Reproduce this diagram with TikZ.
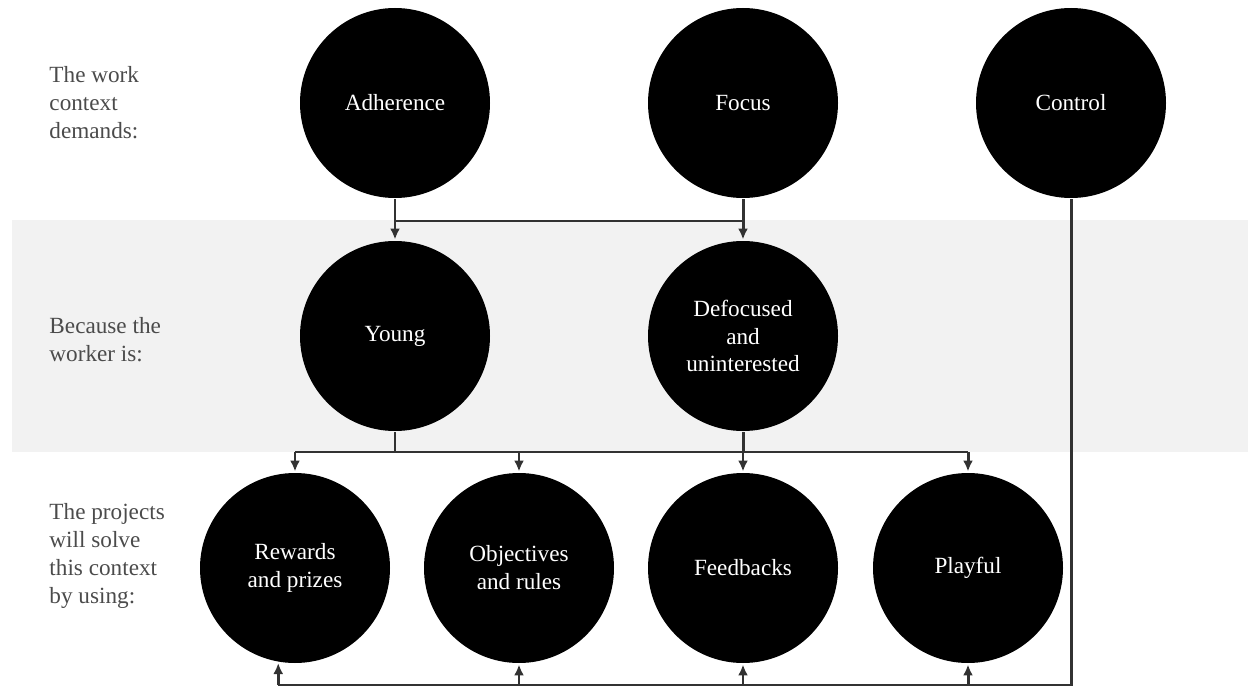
\documentclass[tikz,border=0pt]{standalone}
\usepackage{fontspec}
\setmainfont{Liberation Serif}
\newfontfamily\tms{Liberation Serif}
\usepackage{tikz}
\usetikzlibrary{positioning}
\usetikzlibrary{calc}
\usetikzlibrary{arrows.meta}
\definecolor{bandgray}{RGB}{242,242,242}
\definecolor{wiregray}{RGB}{50,50,50}
\definecolor{txtgray}{RGB}{75,75,75}
\tikzset{every picture/.style={line width=1.7pt},
  ball/.style={circle,fill=black,minimum size=3.8cm,inner sep=0pt,text=white,align=center,font=\tms\fontsize{13.2}{15.9}\selectfont},
  lbl/.style={anchor=west,align=left,inner sep=0pt,text=txtgray,font=\tms\fontsize{13.2}{15.9}\selectfont},
  wire/.style={draw=wiregray},
  arr/.style={draw=wiregray,-{Latex[length=2.2mm,width=2mm]}}}

\begin{document}
\begin{tikzpicture}
\useasboundingbox (0,0) rectangle (24.96,-13.74);
\fill[bandgray] (0.24,-4.4) rectangle (24.96,-9.04);

\node (adh) at (7.9,-2.06) [ball] {Adherence};
\node (foc) [ball, right of=adh, node distance=6.96cm] {Focus};
\node (ctl) [ball, right of=foc, node distance=6.56cm] {Control};
\node (yng) at (7.9,-6.72) [ball] {Young};
\node (dfc) [ball, right of=yng, node distance=6.96cm] {Defocused\\and\\uninterested};
\node (rwd) at (5.9,-11.36) [ball] {Rewards\\and prizes};
\node (obj) [ball, right of=rwd, node distance=4.48cm] {Objectives\\and rules};
\node (fbk) [ball, right of=obj, node distance=4.48cm] {Feedbacks};
\node (ply) [ball, right of=fbk, node distance=4.5cm] {Playful};

\node (dem) at (0.96,-2.06) [lbl] {The work\\context\\demands:};
\node (wrk) at (0.96,-6.8) [lbl] {Because the\\worker is:};
\node (prj) at (0.96,-11.12) [lbl] {The projects\\will solve\\this context\\by using:};

\coordinate (tb) at (0,-4.42);
\coordinate (mb) at (0,-9.04);
\coordinate (lb) at (0,-13.70);

\draw[arr] (adh) -- (yng);
\draw[arr] (foc) -- (dfc);
\draw[wire] (adh |- tb) -- (foc |- tb);
\draw[wire] (yng) -- (yng |- mb);
\draw[wire] (dfc) -- (dfc |- mb);
\draw[wire] (rwd |- mb) -- (ply |- mb);
\foreach \n in {rwd,obj,fbk,ply}
  \draw[arr] (\n |- mb) -- (\n);
\draw[wire] (ctl) |- (rwd.-100 |- lb);
\draw[arr] (rwd.-100 |- lb) -- (rwd.-100);
\foreach \n in {obj,fbk,ply}
  \draw[arr] (\n |- lb) -- (\n);
\end{tikzpicture}
\end{document}
